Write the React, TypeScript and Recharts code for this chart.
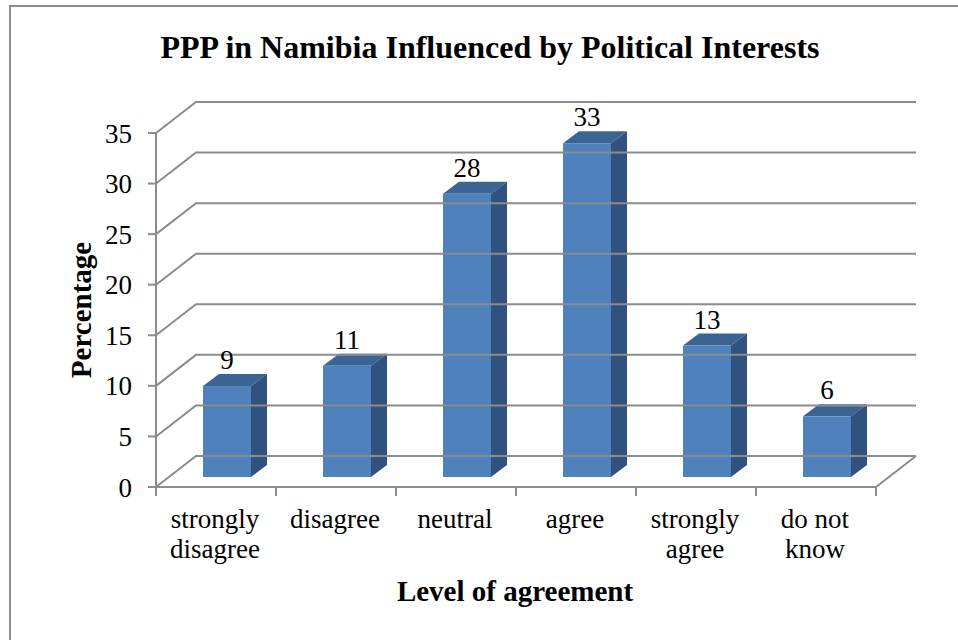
import { BarChart, Bar, XAxis, YAxis, ReferenceLine, LabelList } from "recharts";

const categories = ["strongly disagree", "disagree", "neutral", "agree", "strongly agree", "do not know"];
const categoryLines = [["strongly", "disagree"], ["disagree"], ["neutral"], ["agree"], ["strongly", "agree"], ["do not", "know"]];
const values = [9, 11, 28, 33, 13, 6];
const yTicks = [0, 5, 10, 15, 20, 25, 30, 35];

const data = categories.map((name, i) => ({ name, value: values[i] }));

const FONT = "'Liberation Serif', 'Times New Roman', serif";
const GRID = "#8c8c8c";
// 3D look: how far the back wall sits from the front plane, and the bars inside it
const WALL_DX = 40;
const WALL_DY = 31;
const BAR_DX = 11;
const BAR_DY = 10;
const DEPTH_X = 16;
const DEPTH_Y = 12;
const BAND = 120;

function GridLine(props: any) {
  const { x1, y1, x2, y2, isFloor } = props;
  const points = `${x1},${y1} ${x1 + WALL_DX},${y1 - WALL_DY} ${x2 + WALL_DX},${y2 - WALL_DY}`;
  return (
    <g>
      <polyline points={points} fill="none" stroke={GRID} strokeWidth={2} />
      {isFloor && <line x1={x2} y1={y2} x2={x2 + WALL_DX} y2={y2 - WALL_DY} stroke={GRID} strokeWidth={2} />}
    </g>
  );
}

function Bar3D(props: any) {
  const { width, height } = props;
  const x = props.x + BAR_DX;
  const y = props.y - BAR_DY;
  return (
    <g>
      <polygon
        points={`${x},${y} ${x + DEPTH_X},${y - DEPTH_Y} ${x + width + DEPTH_X},${y - DEPTH_Y} ${x + width},${y}`}
        fill="#3a6494"
      />
      <polygon
        points={`${x + width},${y} ${x + width + DEPTH_X},${y - DEPTH_Y} ${x + width + DEPTH_X},${y + height - DEPTH_Y} ${x + width},${y + height}`}
        fill="#31527f"
      />
      <rect x={x} y={y} width={width} height={height} fill="#4f81bd" />
    </g>
  );
}

function BarValue(props: any) {
  const { x, y, width, value } = props;
  return (
    <text x={x + width / 2 + BAR_DX} y={y - BAR_DY - 17} textAnchor="middle" fontFamily={FONT} fontSize={27} fill="#000">
      {value}
    </text>
  );
}

function CategoryTick(props: any) {
  const { x, y, index } = props;
  const lines = categoryLines[index] || [];
  return (
    <g>
      <line x1={x - BAND / 2} y1={y} x2={x - BAND / 2} y2={y + 9} stroke={GRID} strokeWidth={2} />
      {index === categories.length - 1 && (
        <line x1={x + BAND / 2} y1={y} x2={x + BAND / 2} y2={y + 9} stroke={GRID} strokeWidth={2} />
      )}
      <text textAnchor="middle" fontFamily={FONT} fontSize={27} fill="#000">
        {lines.map((line: string, i: number) => (
          <tspan key={line} x={x - 1} y={y + 41 + i * 30}>
            {line}
          </tspan>
        ))}
      </text>
    </g>
  );
}

export default function App() {
  return (
    <div style={{ position: "absolute", left: 0, top: 0, width: 958, height: 640, background: "#fff", overflow: "hidden" }}>
      <div
        style={{
          position: "absolute",
          left: 9,
          top: 5,
          width: 949,
          height: 635,
          boxSizing: "border-box",
          borderTop: `2px solid ${GRID}`,
          borderLeft: `2px solid ${GRID}`,
        }}
      />
      <BarChart
        width={958}
        height={640}
        data={data}
        margin={{ top: 133, right: 82, bottom: 93, left: 96 }}
        style={{ position: "absolute", left: 0, top: 0 }}
      >
        <text x={490} y={58} textAnchor="middle" fontFamily={FONT} fontSize={32} fontWeight="bold" fill="#000">
          PPP in Namibia Influenced by Political Interests
        </text>
        <text x={515} y={601} textAnchor="middle" fontFamily={FONT} fontSize={29} fontWeight="bold" fill="#000">
          Level of agreement
        </text>
        <text
          x={91}
          y={310}
          textAnchor="middle"
          transform="rotate(-90 91 310)"
          fontFamily={FONT}
          fontSize={29}
          fontWeight="bold"
          fill="#000"
        >
          Percentage
        </text>
        <XAxis
          dataKey="name"
          height={60}
          interval={0}
          tickLine={false}
          tickSize={0}
          tickMargin={0}
          tick={<CategoryTick />}
          axisLine={{ stroke: GRID, strokeWidth: 2 }}
        />
        <YAxis
          width={60}
          domain={[0, 35]}
          ticks={yTicks}
          interval={0}
          tickSize={8}
          tickMargin={16}
          tick={{ fontFamily: FONT, fontSize: 27, fill: "#000" }}
          tickLine={{ stroke: GRID, strokeWidth: 2 }}
          axisLine={{ stroke: GRID, strokeWidth: 2 }}
        />
        {yTicks.map((v) => (
          <ReferenceLine key={v} y={v} shape={<GridLine isFloor={v === 0} />} />
        ))}
        <Bar dataKey="value" barSize={48} shape={<Bar3D />} isAnimationActive={false}>
          <LabelList dataKey="value" content={<BarValue />} />
        </Bar>
      </BarChart>
    </div>
  );
}
